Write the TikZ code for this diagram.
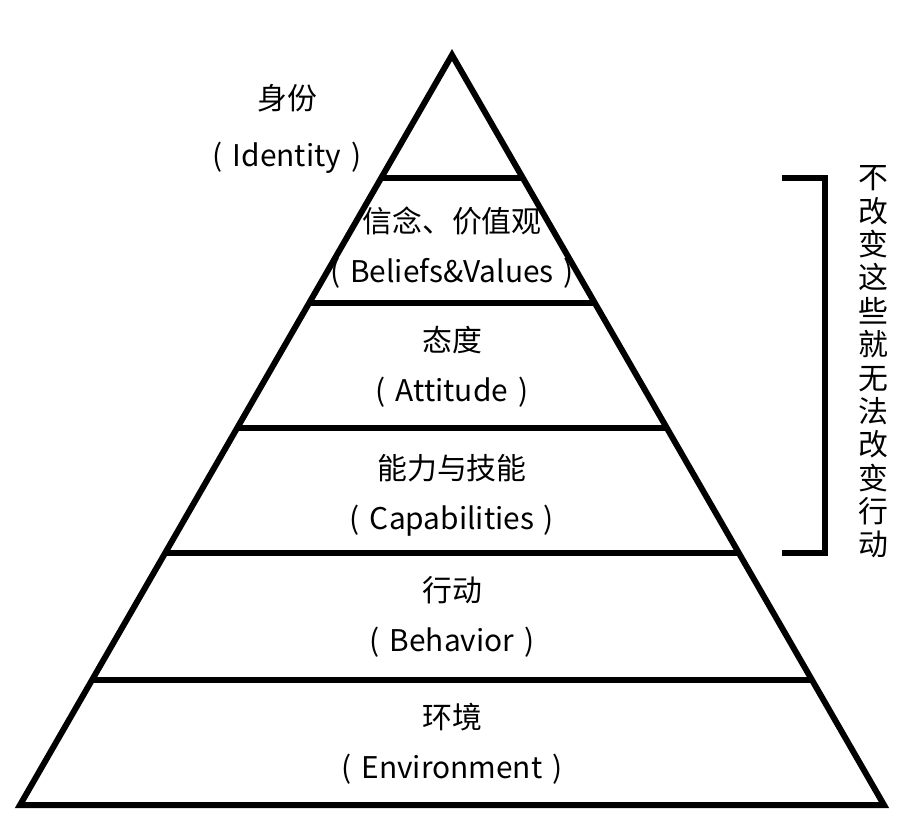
\documentclass[tikz,border=0pt]{standalone}
\usepackage{fontspec}
\setmainfont{Noto Sans CJK SC}
\usetikzlibrary{calc}

\begin{document}
\begin{tikzpicture}
	[x=0.02cm,y=-0.02cm,
	every node/.style={align=center,font=\fontsize{17}{28.5}\selectfont},
	edge/.style={line width=3.4pt,line join=miter},
	side/.style={line width=3pt}]
	\useasboundingbox (0,0) rectangle (902,829);
		% outline
		\coordinate (apex) at (452,55);
		\coordinate (bl) at (20,805);
		\coordinate (br) at (884,805);
		\draw[edge] (apex) -- (bl) -- (br) -- cycle;
		% levels
		\foreach \t in {0.164,0.3307,0.4973,0.664,0.8333}
			\draw[edge] ($(apex)!\t!(bl)$) -- ($(apex)!\t!(br)$);
		% labels
		\node(id)[font=\fontsize{17}{32}\selectfont] at (287,129){身份\\(\,\,Identity\,\,)};
		\node(bv) at (452,248){信念、价值观\\(\,\,Beliefs\&Values\,\,)};
		\node(at) at (452,367){态度\\(\,\,Attitude\,\,)};
		\node(cp) at (452,495){能力与技能\\(\,\,Capabilities\,\,)};
		\node(bh) at (452,617){行动\\(\,\,Behavior\,\,)};
		\node(en) at (452,744){环境\\(\,\,Environment\,\,)};
		% bracket
		\coordinate (b1) at (782,178);
		\coordinate (b2) at (782,553);
		\draw[side] (b1) -| (825,365) |- (b2);
		\node(note)[font=\fontsize{17}{19}\selectfont] at (873,362)
			{不\\改\\变\\这\\些\\就\\无\\法\\改\\变\\行\\动};
	\end{tikzpicture}
\end{document}
